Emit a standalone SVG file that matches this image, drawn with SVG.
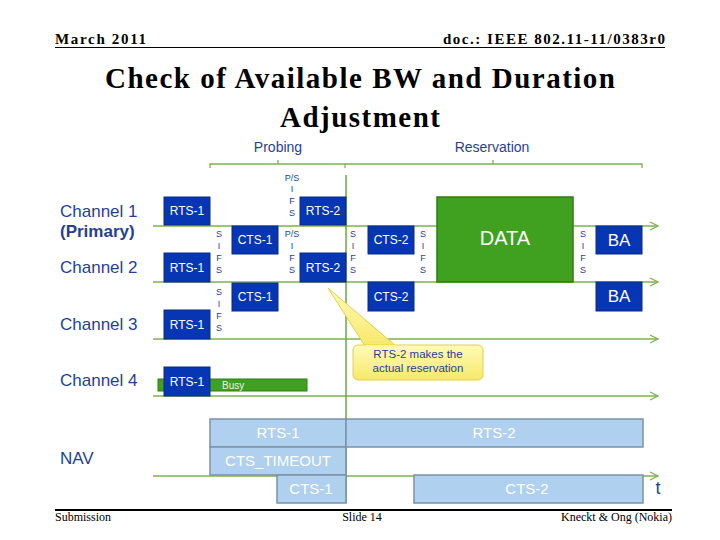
<svg xmlns="http://www.w3.org/2000/svg" width="720" height="540" viewBox="0 0 720 540">
<defs>
<style>
.hdr{font-family:"Liberation Serif",serif;font-weight:bold;font-size:15px;fill:#000}
.ttl{font-family:"Liberation Serif",serif;font-weight:bold;font-size:29px;fill:#000;text-anchor:middle}
.ftr{font-family:"Liberation Serif",serif;font-size:12px;fill:#000}
.lbl{font-family:"Liberation Sans",sans-serif;font-size:17px;fill:#1f3f9e}
.phase{font-family:"Liberation Sans",sans-serif;font-size:14px;fill:#1f3f9e;text-anchor:middle}
.ch{stroke:#7cb34e;stroke-width:1.3;fill:none}
.box{fill:#0636b4;stroke:#0a2a86;stroke-width:1}
.bt{font-family:"Liberation Sans",sans-serif;font-size:12px;fill:#fff;text-anchor:middle}
.bt2{font-family:"Liberation Sans",sans-serif;font-size:17px;fill:#fff;text-anchor:middle}
.sifs{font-family:"Liberation Sans",sans-serif;font-size:9px;fill:#1f3f9e;text-anchor:middle}
.nav{fill:#afd0ee;stroke:#7d91a8;stroke-width:1.5}
.nt{font-family:"Liberation Sans",sans-serif;font-size:15px;fill:#fff;text-anchor:middle}
.brk{stroke:#7cb34e;stroke-width:1.3;fill:none}
</style>
<marker id="arr" markerWidth="10" markerHeight="10" refX="9" refY="5" orient="auto" markerUnits="userSpaceOnUse">
<path d="M1,1 L9,5 L1,9" fill="none" stroke="#7cb34e" stroke-width="1.3"/>
</marker>
<linearGradient id="yel" x1="0" y1="0" x2="0" y2="1">
<stop offset="0" stop-color="#fffbb8"/>
<stop offset="1" stop-color="#f7e86a"/>
</linearGradient>
</defs>
<rect width="720" height="540" fill="#fff"/>

<g id="header">
<text class="hdr" x="55" y="44" textLength="91" lengthAdjust="spacing">March 2011</text>
<text class="hdr" x="443" y="44" textLength="222" lengthAdjust="spacing">doc.: IEEE 802.11-11/0383r0</text>
<line x1="55" y1="47.5" x2="665" y2="47.5" stroke="#000" stroke-width="1"/>
<text class="ttl" x="360" y="88" textLength="510" lengthAdjust="spacing">Check of Available BW and Duration</text>
<text class="ttl" x="360" y="127" textLength="160" lengthAdjust="spacing">Adjustment</text>
</g>

<g id="footer">
<line x1="55" y1="510" x2="672" y2="510" stroke="#000" stroke-width="2"/>
<text class="ftr" x="55" y="521">Submission</text>
<text class="ftr" x="362" y="521" text-anchor="middle">Slide 14</text>
<text class="ftr" x="672" y="521" text-anchor="end">Kneckt &amp; Ong (Nokia)</text>
</g>

<g id="phases">
<text class="phase" x="278" y="152">Probing</text>
<text class="phase" x="492" y="152">Reservation</text>
<path class="brk" d="M210,168 V164 H345 V168 M278,164 V160"/>
<path class="brk" d="M345,164 H642 V168 M493,164 V160"/>
</g>

<g id="labels">
<text class="lbl" x="60" y="217">Channel 1</text>
<text class="lbl" x="60" y="237" font-weight="bold">(Primary)</text>
<text class="lbl" x="60" y="273">Channel 2</text>
<text class="lbl" x="60" y="330">Channel 3</text>
<text class="lbl" x="60" y="386">Channel 4</text>
<text class="lbl" x="60" y="464">NAV</text>
</g>

<g id="connectors">
<line class="ch" x1="153" y1="226" x2="658" y2="226" marker-end="url(#arr)"/>
<line class="ch" x1="153" y1="282" x2="658" y2="282" marker-end="url(#arr)"/>
<line class="ch" x1="153" y1="339" x2="658" y2="339" marker-end="url(#arr)"/>
<line class="ch" x1="153" y1="396" x2="658" y2="396" marker-end="url(#arr)"/>
<line class="ch" x1="153" y1="476" x2="658" y2="476" marker-end="url(#arr)"/>
<line x1="346" y1="175" x2="346" y2="503" stroke="#6aaa3a" stroke-width="1.5"/>
</g>

<g id="busy">
<rect x="158" y="379" width="149" height="12" fill="#40a020" stroke="#2f7d15" stroke-width="1"/>
<text x="222" y="388.5" font-family="Liberation Sans, sans-serif" font-size="10" fill="#e8f5e0">Busy</text>
</g>

<g id="ch1-rts1"><rect class="box" x="164" y="197" width="46" height="28"/><text class="bt" x="187" y="215">RTS-1</text></g>
<g id="ch1-cts1"><rect class="box" x="232" y="226" width="46" height="28"/><text class="bt" x="255" y="244">CTS-1</text></g>
<g id="ch1-rts2"><rect class="box" x="300" y="197" width="46" height="28"/><text class="bt" x="323" y="215">RTS-2</text></g>
<g id="ch2-rts1"><rect class="box" x="164" y="253" width="46" height="29"/><text class="bt" x="187" y="272">RTS-1</text></g>
<g id="ch2-cts1"><rect class="box" x="232" y="283" width="46" height="28"/><text class="bt" x="255" y="301">CTS-1</text></g>
<g id="ch2-rts2"><rect class="box" x="300" y="253" width="46" height="29"/><text class="bt" x="323" y="272">RTS-2</text></g>
<g id="ch3-rts1"><rect class="box" x="164" y="310" width="46" height="29"/><text class="bt" x="187" y="329">RTS-1</text></g>
<g id="ch4-rts1"><rect class="box" x="164" y="367" width="46" height="29"/><text class="bt" x="187" y="386">RTS-1</text></g>
<g id="ch1-cts2"><rect class="box" x="368" y="226" width="46" height="28"/><text class="bt" x="391" y="244">CTS-2</text></g>
<g id="ch2-cts2"><rect class="box" x="368" y="282" width="46" height="29"/><text class="bt" x="391" y="301">CTS-2</text></g>
<g id="data"><rect x="437" y="197" width="136" height="85" fill="#40a020" stroke="#2f7d15" stroke-width="1.5"/><text x="505" y="245" font-family="Liberation Sans, sans-serif" font-size="20" fill="#fff" text-anchor="middle">DATA</text></g>
<g id="ch1-ba"><rect class="box" x="596" y="226" width="46" height="28"/><text class="bt2" x="619" y="246">BA</text></g>
<g id="ch2-ba"><rect class="box" x="596" y="282" width="46" height="29"/><text class="bt2" x="619" y="302">BA</text></g>

<g id="sifs">
<text class="sifs"><tspan x="219" y="237">S</tspan><tspan x="219" y="249">I</tspan><tspan x="219" y="261">F</tspan><tspan x="219" y="273">S</tspan></text>
<text class="sifs"><tspan x="219" y="295">S</tspan><tspan x="219" y="307">I</tspan><tspan x="219" y="319">F</tspan><tspan x="219" y="331">S</tspan></text>
<text class="sifs"><tspan x="292" y="181">P/S</tspan><tspan x="292" y="192">I</tspan><tspan x="292" y="204">F</tspan><tspan x="292" y="216">S</tspan></text>
<text class="sifs"><tspan x="292" y="237">P/S</tspan><tspan x="292" y="249">I</tspan><tspan x="292" y="261">F</tspan><tspan x="292" y="273">S</tspan></text>
<text class="sifs"><tspan x="353" y="237">S</tspan><tspan x="353" y="249">I</tspan><tspan x="353" y="261">F</tspan><tspan x="353" y="273">S</tspan></text>
<text class="sifs"><tspan x="423" y="237">S</tspan><tspan x="423" y="249">I</tspan><tspan x="423" y="261">F</tspan><tspan x="423" y="273">S</tspan></text>
<text class="sifs"><tspan x="583" y="237">S</tspan><tspan x="583" y="249">I</tspan><tspan x="583" y="261">F</tspan><tspan x="583" y="273">S</tspan></text>
</g>

<g id="callout">
<path d="M328,288 L396,346 L365,346 Z" fill="url(#yel)" stroke="#e2d04a" stroke-width="1"/>
<rect x="353" y="345" width="130" height="35" rx="5" fill="url(#yel)" stroke="#e2d04a" stroke-width="1"/>
<path d="M366,346 L395,346" stroke="#fdf6a0" stroke-width="2"/>
<text x="418" y="358" font-family="Liberation Sans, sans-serif" font-size="11.5" fill="#1f3f9e" text-anchor="middle">RTS-2 makes the</text>
<text x="418" y="372" font-family="Liberation Sans, sans-serif" font-size="11.5" fill="#1f3f9e" text-anchor="middle">actual reservation</text>
</g>

<g id="nav-rts1"><rect class="nav" x="210" y="419" width="136" height="28"/><text class="nt" x="278" y="438">RTS-1</text></g>
<g id="nav-rts2"><rect class="nav" x="346" y="419" width="297" height="28"/><text class="nt" x="494" y="438">RTS-2</text></g>
<g id="nav-ctstimeout"><rect class="nav" x="210" y="447" width="136" height="28"/><text class="nt" x="278" y="466">CTS_TIMEOUT</text></g>
<g id="nav-cts1"><rect class="nav" x="277" y="475" width="69" height="28"/><text class="nt" x="311" y="494">CTS-1</text></g>
<g id="nav-cts2"><rect class="nav" x="414" y="475" width="229" height="28"/><text class="nt" x="527" y="494">CTS-2</text></g>
<text x="658" y="494" font-family="Liberation Sans, sans-serif" font-size="18" fill="#1f3f9e" text-anchor="middle">t</text>
</svg>
